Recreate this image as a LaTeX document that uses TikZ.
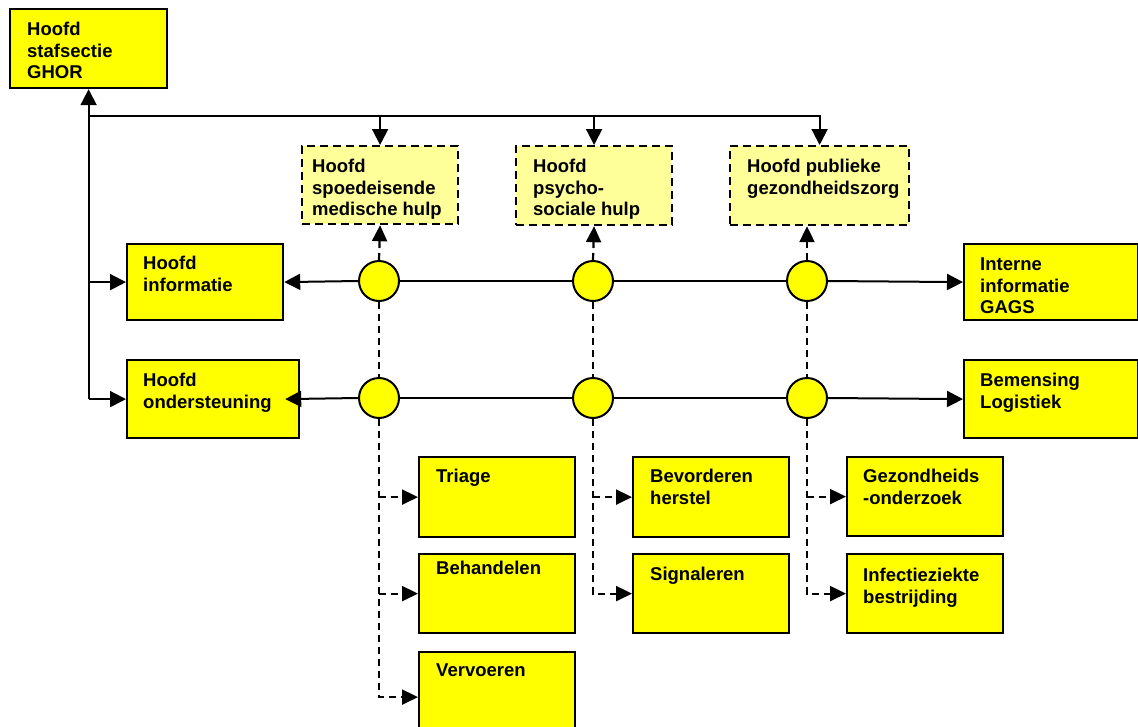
\documentclass[tikz,border=0pt]{standalone}
\usepackage{fontspec}
\setmainfont{Liberation Sans}
\usetikzlibrary{arrows.meta}
\definecolor{boxyellow}{HTML}{FFFF00}
\definecolor{paleyellow}{HTML}{FFFF99}
\begin{document}
\begin{tikzpicture}[x=1pt,y=-1pt,
  every node/.style={font=\fontsize{18.5}{21.5}\selectfont\bfseries},
  ybox/.style={draw, line width=2.2pt, fill=boxyellow, anchor=north west, inner sep=0pt},
  pbox/.style={draw, line width=2.2pt, dash pattern=on 8pt off 5pt, fill=paleyellow, anchor=north west, inner sep=0pt},
  txt/.style={anchor=north west, align=left, inner sep=0pt},
  dot/.style={circle, draw, line width=2pt, fill=boxyellow, minimum size=40pt, inner sep=0pt},
  link/.style={line width=2pt},
  arr/.style={link, -{Triangle[length=16pt,width=16pt]}},
  dlink/.style={line width=2.2pt, dash pattern=on 7pt off 5pt},
  darr/.style={dlink, -{Triangle[length=16pt,width=15pt]}},
]
\fill[white] (0,0) rectangle (1138,726);
\useasboundingbox (0,0) rectangle (1138,726);

% top level
\node[ybox, minimum width=157pt, minimum height=79pt,
  label={[txt, xshift=18pt, yshift=-14pt]north west:{Hoofd\\stafsectie\\GHOR}}] (ghor) at (9,8) {};

% section heads (dashed)
\node[pbox, minimum width=156pt, minimum height=78pt,
  label={[txt, xshift=11pt, yshift=-14pt]north west:{Hoofd\\spoedeisende\\medische hulp}}] (d1) at (301,145) {};
\node[pbox, minimum width=156pt, minimum height=79pt,
  label={[txt, xshift=18pt, yshift=-14pt]north west:{Hoofd\\psycho-\\sociale hulp}}] (d2) at (515,145) {};
\node[pbox, minimum width=179pt, minimum height=79pt,
  label={[txt, xshift=18pt, yshift=-14pt]north west:{Hoofd publieke\\gezondheidszorg}}] (d3) at (729,145) {};

% left and right ends of the two rows
\node[ybox, minimum width=156pt, minimum height=76pt,
  label={[txt, xshift=17pt, yshift=-13pt]north west:{Hoofd\\informatie}}] (info) at (126,243) {};
\node[ybox, minimum width=172pt, minimum height=78pt,
  label={[txt, xshift=17pt, yshift=-14pt]north west:{Hoofd\\ondersteuning}}] (ond) at (126,359) {};
\node[ybox, minimum width=174pt, minimum height=76pt,
  label={[txt, xshift=17pt, yshift=-15pt]north west:{Interne\\informatie\\GAGS}}] (interne) at (963,243) {};
\node[ybox, minimum width=174pt, minimum height=78pt,
  label={[txt, xshift=17pt, yshift=-14pt]north west:{Bemensing\\Logistiek}}] (bem) at (963,359) {};

% tasks
\node[ybox, minimum width=156pt, minimum height=80pt,
  label={[txt, xshift=18pt, yshift=-13pt]north west:{Triage}}] (triage) at (418,456) {};
\node[ybox, minimum width=156pt, minimum height=79pt,
  label={[txt, xshift=18pt, yshift=-8pt]north west:{Behandelen}}] (behand) at (418,553) {};
\node[ybox, minimum width=156pt, minimum height=90pt,
  label={[txt, xshift=18pt, yshift=-13pt]north west:{Vervoeren}}] (verv) at (418,651) {};
\node[ybox, minimum width=156pt, minimum height=80pt,
  label={[txt, xshift=18pt, yshift=-13pt]north west:{Bevorderen\\herstel}}] (bevord) at (632,456) {};
\node[ybox, minimum width=156pt, minimum height=79pt,
  label={[txt, xshift=18pt, yshift=-14pt]north west:{Signaleren}}] (signal) at (632,553) {};
\node[ybox, minimum width=156pt, minimum height=79pt,
  label={[txt, xshift=17pt, yshift=-13pt]north west:{Gezondheids\\-onderzoek}}] (gezond) at (846,456) {};
\node[ybox, minimum width=156pt, minimum height=79pt,
  label={[txt, xshift=17pt, yshift=-15pt]north west:{Infectieziekte\\bestrijding}}] (infect) at (846,553) {};

% junctions
\node[dot] (c11) at (379,281) {};
\node[dot] (c12) at (593,281) {};
\node[dot] (c13) at (807,281) {};
\node[dot] (c21) at (379,398) {};
\node[dot] (c22) at (593,398) {};
\node[dot] (c23) at (807,398) {};

% staff links
\coordinate (tj) at (88,116);
\draw[arr] (ghor.south |- ond.west) -- (ghor.south);
\draw[arr] (ghor.south |- info.west) -- (info.west);
\draw[arr] (ghor.south |- ond.west) -- (ond.west);
\draw[arr] (tj) -| (d3.north);
\draw[arr] (tj -| d1.north) -- (d1.north);
\draw[arr] (tj -| d2.north) -- (d2.north);

% rows
\draw[arr] (c11.west) -- (info.east);
\draw[link] (c11.east) -- (c12.west);
\draw[link] (c12.east) -- (c13.west);
\draw[arr] (c13.east) -- (interne.west);
\draw[arr] (c21.west) -- ([xshift=-15pt]ond.east);
\draw[link] (c21.east) -- (c22.west);
\draw[link] (c22.east) -- (c23.west);
\draw[arr] (c23.east) -- (bem.west);

% columns
\draw[darr] (c11.north) -- (d1.south);
\draw[darr] (c12.north) -- (d2.south);
\draw[darr] (c13.north) -- (c13.north |- d3.south);
\draw[dlink] (c11.south) -- (c21.north);
\draw[dlink] (c12.south) -- (c22.north);
\draw[dlink] (c13.south) -- (c23.north);

% tasks per column
\draw[darr] (c21.south) |- (verv.west);
\draw[darr] (c21.south |- triage.west) -- (triage.west);
\draw[darr] (c21.south |- behand.west) -- (behand.west);
\draw[darr] (c22.south) |- (signal.west);
\draw[darr] (c22.south |- bevord.west) -- (bevord.west);
\draw[darr] (c23.south) |- (infect.west);
\draw[darr] (c23.south |- gezond.west) -- (gezond.west);
\end{tikzpicture}
\end{document}
